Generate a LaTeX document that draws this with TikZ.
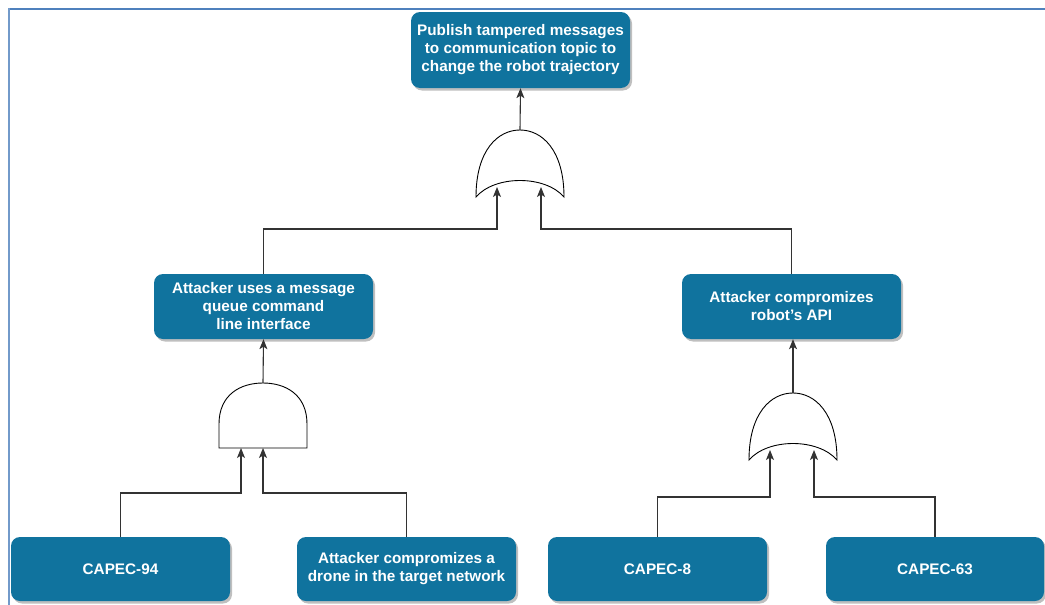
\documentclass[tikz,border=0pt]{standalone}
\usepackage{fontspec}
\setmainfont{Liberation Sans}
\usetikzlibrary{arrows.meta,shadows}
\definecolor{boxblue}{HTML}{10739E}
\definecolor{frameblue}{HTML}{4F81BD}
\definecolor{wire}{HTML}{333333}
\tikzset{
  event/.style={draw=none, fill=boxblue, rounded corners=9pt, minimum width=219pt,
    text=white, align=center, inner sep=0pt,
    font=\fontsize{15.3}{18}\selectfont\bfseries,
    drop shadow={shadow xshift=2pt, shadow yshift=-2.5pt, fill=black, opacity=0.25}},
  gate/.style={draw=black, line width=0.9pt, fill=white},
  link/.style={draw=wire, line width=1.1pt},
  arrowlink/.style={link, -{Stealth[length=10pt,width=8pt,inset=2.5pt]}}
}
\begin{document}
\begin{tikzpicture}[x=1pt,y=-1pt]
\useasboundingbox (0,0) rectangle (1045,605);
% page frame
\draw[frameblue, line width=2pt] (8,9) -- (1045,9);
\draw[frameblue!80, line width=1.6pt] (9,8) -- (9,605);

% events
\node[event, minimum height=76pt] (top) at (520.5,50) {Publish tampered messages\\to communication topic to\\change the robot trajectory};
\node[event, minimum height=65pt] (cli) at (263.5,306.5) {Attacker uses a message\\queue command\\line interface};
\node[event, minimum height=65pt] (api) at (791.5,306.5) {Attacker compromizes\\robot's API};
\node[event, minimum height=64pt] (c94) at (120.5,569) {CAPEC-94};
\node[event, minimum height=64pt] (drone) at (406.5,569) {Attacker compromizes a\\drone in the target network};
\node[event, minimum height=64pt] (c8) at (657.5,569) {CAPEC-8};
\node[event, minimum height=64pt, minimum width=218pt] (c63) at (935,569) {CAPEC-63};

% OR gate below the top event
\draw[gate] (476,197) .. controls (476,150) and (498,130) .. (520,130)
  .. controls (542,130) and (564,150) .. (564,197)
  .. controls (545,175) and (495,175) .. (476,197) -- cycle;
\coordinate (orTopOut) at (520,130);
\coordinate (orTopInA) at (497,187);
\coordinate (orTopInB) at (541,187);

% AND gate below the CLI event
\draw[gate] (219,448) -- (219,424) .. controls (219,395) and (240,383) .. (263,383)
  .. controls (286,383) and (307,395) .. (307,424) -- (307,448) -- cycle;
\coordinate (andOut) at (263,383);
\coordinate (andInA) at (241,448);
\coordinate (andInB) at (263,448);

% OR gate below the API event
\draw[gate] (749,460) .. controls (749,413) and (771,393) .. (793,393)
  .. controls (815,393) and (837,413) .. (837,460)
  .. controls (818,438) and (768,438) .. (749,460) -- cycle;
\coordinate (orApiOut) at (793,393);
\coordinate (orApiInA) at (770,450);
\coordinate (orApiInB) at (814,450);

% gate outputs
\draw[arrowlink] (orTopOut) -- (top.south);
\draw[arrowlink] (andOut) -- (cli.south);
\draw[arrowlink] (orApiOut) -- (api.south -| orApiOut);

% gate inputs
\draw[arrowlink] (cli.north) |- (497,229) -- (orTopInA);
\draw[arrowlink] (api.north) |- (541,229) -- (orTopInB);
\draw[arrowlink] (c94.north) |- (241,493) -- (andInA);
\draw[arrowlink] (drone.north) |- (263,493) -- (andInB);
\draw[arrowlink] (c8.north) |- (770,497) -- (orApiInA);
\draw[arrowlink] (c63.north) |- (814,497) -- (orApiInB);
\end{tikzpicture}
\end{document}
